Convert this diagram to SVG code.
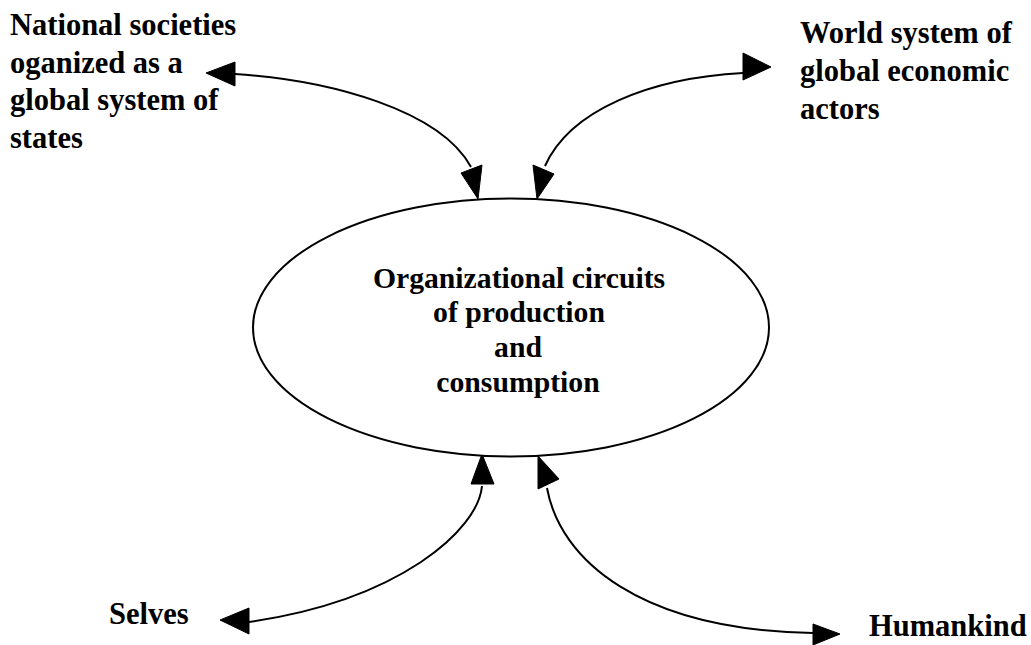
<svg xmlns="http://www.w3.org/2000/svg" width="1031" height="645" viewBox="0 0 1031 645">
<style>
  .t { font-family: "Liberation Serif", "Times New Roman", Times, serif; font-weight: bold; font-size: 30.5px; fill: #000; }
  .c { text-anchor: middle; font-size: 29.7px; }
  .ln { fill: none; stroke: #000; stroke-width: 2; }
  .ah { fill: #000; stroke: #000; stroke-width: 1; stroke-linejoin: round; }
  .el { fill: #fff; stroke: #000; stroke-width: 2; }
</style>
<rect width="1031" height="645" fill="#fff"/>
<g id="connectors">
  <path class="ln" d="M235,74 C330,80 440,110 471,167"/>
  <polygon class="ah" points="206,73 235,62 235,86"/>
  <polygon class="ah" points="478,199 461,173 482,165"/>
  <path class="ln" d="M545,166 C570,110 650,78 743,73"/>
  <polygon class="ah" points="771,67 743,53 743,80"/>
  <polygon class="ah" points="537,199 533,165 554,174"/>
  <path class="ln" d="M482,486 C478,530 400,600 249,622"/>
  <polygon class="ah" points="482,454 471,484 494,484"/>
  <polygon class="ah" points="220,620 249,608 249,634"/>
  <path class="ln" d="M547,488 C560,560 640,630 813,633"/>
  <polygon class="ah" points="538,456 538,489 559,479"/>
  <polygon class="ah" points="840,634 813,624 813,645"/>
</g>
<g id="center">
  <ellipse class="el" cx="511" cy="327.5" rx="258" ry="129"/>
  <text class="t c" x="519" y="288">Organizational circuits</text>
  <text class="t c" x="519" y="322">of production</text>
  <text class="t c" x="518" y="357">and</text>
  <text class="t c" x="518" y="392">consumption</text>
</g>
<g id="national">
  <text class="t" x="10" y="35">National societies</text>
  <text class="t" x="10" y="72.5">oganized as a</text>
  <text class="t" x="10" y="110">global system of</text>
  <text class="t" x="10" y="148">states</text>
</g>
<g id="world">
  <text class="t" x="800" y="43">World system of</text>
  <text class="t" x="800" y="81">global economic</text>
  <text class="t" x="800" y="119">actors</text>
</g>
<g id="selves">
  <text class="t" x="109" y="624">Selves</text>
</g>
<g id="humankind">
  <text class="t" x="869" y="636">Humankind</text>
</g>
</svg>
